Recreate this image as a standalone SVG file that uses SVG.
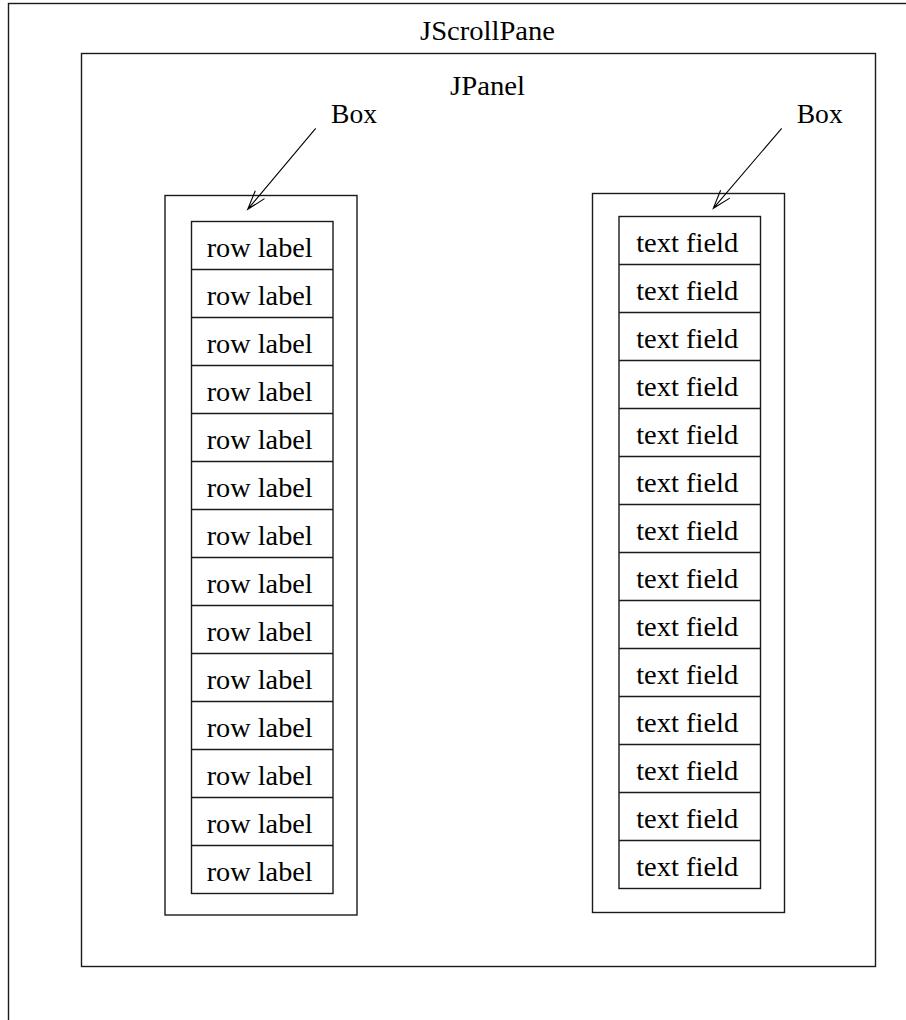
<svg xmlns="http://www.w3.org/2000/svg" width="906" height="1020" viewBox="0 0 906 1020">
<style>
.f{fill:none;stroke:#1a1a1a;stroke-width:1.4}
.t{font-family:"Liberation Serif","Times New Roman",serif;font-size:27px;fill:#000;text-anchor:middle}
.a{fill:none;stroke:#000;stroke-width:1.1}
</style>
<rect width="906" height="1020" fill="#fff"/>
<g id="jscrollpane">
<rect class="f" x="8.5" y="3.5" width="920" height="1040"/>
<text class="t" x="487.5" y="40" textLength="135" lengthAdjust="spacingAndGlyphs">JScrollPane</text>
</g>
<g id="jpanel">
<rect class="f" x="81.5" y="53.5" width="794" height="913"/>
<text class="t" x="487.5" y="95" textLength="75" lengthAdjust="spacingAndGlyphs">JPanel</text>
</g>
<g id="box-left">
<rect class="f" x="165" y="195.5" width="192" height="719.5"/>
<text class="t" x="354" y="123" textLength="46" lengthAdjust="spacingAndGlyphs">Box</text>
<g id="rows-left">
<rect class="f" x="191.5" y="221.5" width="141.5" height="672"/>
<path class="f" d="M191.5 269.5H333M191.5 317.5H333M191.5 365.5H333M191.5 413.5H333M191.5 461.5H333M191.5 509.5H333M191.5 557.5H333M191.5 605.5H333M191.5 653.5H333M191.5 701.5H333M191.5 749.5H333M191.5 797.5H333M191.5 845.5H333"/>
<text class="t" x="259.7" y="256.7" textLength="106" lengthAdjust="spacingAndGlyphs">row label</text>
<text class="t" x="259.7" y="304.7" textLength="106" lengthAdjust="spacingAndGlyphs">row label</text>
<text class="t" x="259.7" y="352.7" textLength="106" lengthAdjust="spacingAndGlyphs">row label</text>
<text class="t" x="259.7" y="400.7" textLength="106" lengthAdjust="spacingAndGlyphs">row label</text>
<text class="t" x="259.7" y="448.7" textLength="106" lengthAdjust="spacingAndGlyphs">row label</text>
<text class="t" x="259.7" y="496.7" textLength="106" lengthAdjust="spacingAndGlyphs">row label</text>
<text class="t" x="259.7" y="544.7" textLength="106" lengthAdjust="spacingAndGlyphs">row label</text>
<text class="t" x="259.7" y="592.7" textLength="106" lengthAdjust="spacingAndGlyphs">row label</text>
<text class="t" x="259.7" y="640.7" textLength="106" lengthAdjust="spacingAndGlyphs">row label</text>
<text class="t" x="259.7" y="688.7" textLength="106" lengthAdjust="spacingAndGlyphs">row label</text>
<text class="t" x="259.7" y="736.7" textLength="106" lengthAdjust="spacingAndGlyphs">row label</text>
<text class="t" x="259.7" y="784.7" textLength="106" lengthAdjust="spacingAndGlyphs">row label</text>
<text class="t" x="259.7" y="832.7" textLength="106" lengthAdjust="spacingAndGlyphs">row label</text>
<text class="t" x="259.7" y="880.7" textLength="106" lengthAdjust="spacingAndGlyphs">row label</text>
</g>
</g>
<g id="box-right">
<rect class="f" x="592.5" y="193.5" width="192" height="719"/>
<text class="t" x="819.7" y="123.3" textLength="46" lengthAdjust="spacingAndGlyphs">Box</text>
<g id="rows-right">
<rect class="f" x="619" y="216.5" width="141.5" height="672"/>
<path class="f" d="M619 264.5H760.5M619 312.5H760.5M619 360.5H760.5M619 408.5H760.5M619 456.5H760.5M619 504.5H760.5M619 552.5H760.5M619 600.5H760.5M619 648.5H760.5M619 696.5H760.5M619 744.5H760.5M619 792.5H760.5M619 840.5H760.5"/>
<text class="t" x="687.2" y="251.7" textLength="102" lengthAdjust="spacingAndGlyphs">text field</text>
<text class="t" x="687.2" y="299.7" textLength="102" lengthAdjust="spacingAndGlyphs">text field</text>
<text class="t" x="687.2" y="347.7" textLength="102" lengthAdjust="spacingAndGlyphs">text field</text>
<text class="t" x="687.2" y="395.7" textLength="102" lengthAdjust="spacingAndGlyphs">text field</text>
<text class="t" x="687.2" y="443.7" textLength="102" lengthAdjust="spacingAndGlyphs">text field</text>
<text class="t" x="687.2" y="491.7" textLength="102" lengthAdjust="spacingAndGlyphs">text field</text>
<text class="t" x="687.2" y="539.7" textLength="102" lengthAdjust="spacingAndGlyphs">text field</text>
<text class="t" x="687.2" y="587.7" textLength="102" lengthAdjust="spacingAndGlyphs">text field</text>
<text class="t" x="687.2" y="635.7" textLength="102" lengthAdjust="spacingAndGlyphs">text field</text>
<text class="t" x="687.2" y="683.7" textLength="102" lengthAdjust="spacingAndGlyphs">text field</text>
<text class="t" x="687.2" y="731.7" textLength="102" lengthAdjust="spacingAndGlyphs">text field</text>
<text class="t" x="687.2" y="779.7" textLength="102" lengthAdjust="spacingAndGlyphs">text field</text>
<text class="t" x="687.2" y="827.7" textLength="102" lengthAdjust="spacingAndGlyphs">text field</text>
<text class="t" x="687.2" y="875.7" textLength="102" lengthAdjust="spacingAndGlyphs">text field</text>
</g>
</g>
<g id="connectors">
<path class="a" d="M315.7 128.3L247.7 209.3M255.3 190.8L247.7 209.3L264.5 198.6"/>
<path class="a" d="M781.7 128.3L713.3 208.3M720.6 190.3L713.3 208.3L729.8 198.1"/>
</g>
</svg>
